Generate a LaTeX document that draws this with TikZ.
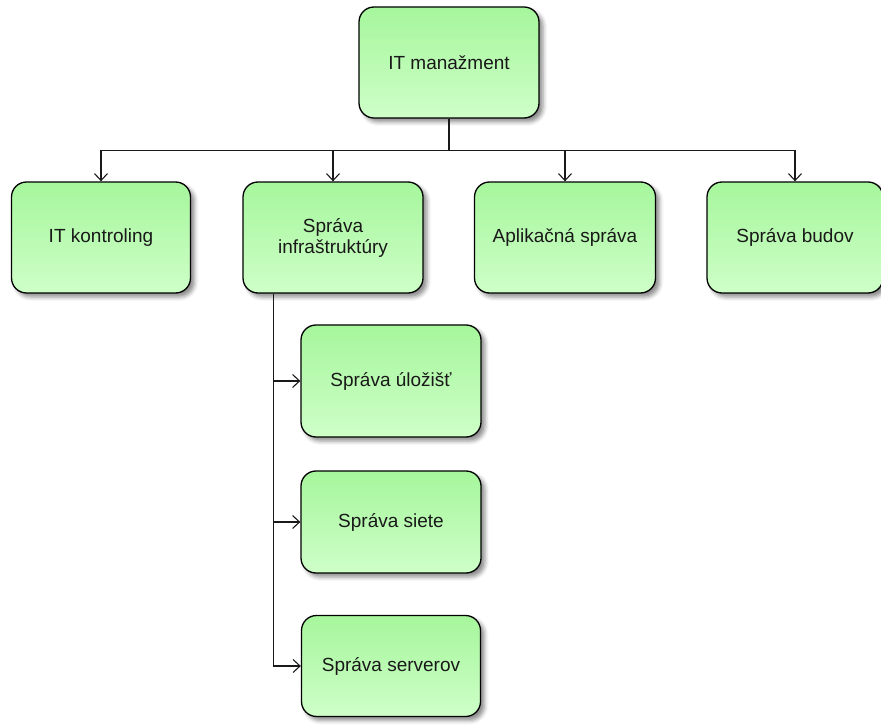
\documentclass[tikz,border=0pt]{standalone}
\usepackage{fontspec}
\setmainfont{Liberation Sans}
\usetikzlibrary{arrows.meta,shadows.blur}

\definecolor{boxtop}{RGB}{166,246,156}
\definecolor{boxbot}{RGB}{206,255,200}
\definecolor{ink}{RGB}{25,25,25}

\tikzset{
  orgbox/.style={
    draw=black, line width=1.3pt, rounded corners=15pt,
    top color=boxtop, bottom color=boxbot,
    minimum height=111pt, inner sep=2pt, align=center,
    text=ink, font=\fontsize{19}{21}\selectfont,
    blur shadow={shadow xshift=4pt, shadow yshift=-4pt,
                 shadow blur radius=4pt, shadow opacity=45}
  },
  link/.style={draw=ink, line width=1.1pt,
    -{Straight Barb[length=7pt,width=13pt,line width=1.1pt]}}
}

\begin{document}
\begin{tikzpicture}[x=1pt,y=-1pt]
  \useasboundingbox (0,0) rectangle (881,727);

  % top-level unit
  \node[orgbox, minimum width=180pt] (top) at (449,62.5) {IT manažment};

  % second level
  \node[orgbox, minimum width=179pt] (ctrl)  at (101,237.5) {IT kontroling};
  \node[orgbox, minimum width=180pt] (infra) at (333,237.5) {Správa\\infraštruktúry};
  \node[orgbox, minimum width=181pt] (app)   at (565,237.5) {Aplikačná správa};
  \node[orgbox, minimum width=176pt] (bld)   at (795,237.5) {Správa budov};

  % units under infrastructure
  \node[orgbox, minimum width=180pt, minimum height=112pt] (stor) at (391,381) {Správa úložišť};
  \node[orgbox, minimum width=180pt, minimum height=102pt] (net)  at (391,522) {Správa siete};
  \node[orgbox, minimum width=179pt, minimum height=101pt] (srv)  at (391,666) {Správa serverov};

  % connectors from the top
  \coordinate (bus) at ([yshift=-32pt]top.south);
  \draw[draw=ink, line width=1.1pt] (top.south) -- (bus);
  \foreach \n in {ctrl,infra,app,bld}
    \draw[link] (bus) -| (\n.north);

  % trunk under infrastructure
  \coordinate (trunk) at ([xshift=31pt]infra.south west);
  \foreach \n in {stor,net,srv}
    \draw[link] (trunk) |- (\n.west);
\end{tikzpicture}
\end{document}
